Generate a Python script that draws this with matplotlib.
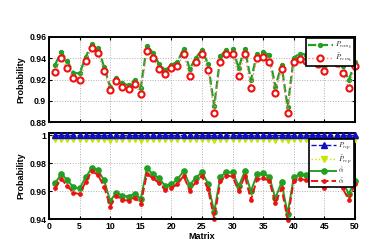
import numpy as np
import matplotlib
matplotlib.use('Agg')
import matplotlib.pyplot as plt
from matplotlib.ticker import FuncFormatter

plt.rcParams['font.family'] = ['Liberation Sans', 'DejaVu Sans']
plt.rcParams['font.weight'] = 'bold'
plt.rcParams['mathtext.fontset'] = 'cm'

# 数据
matrix = np.arange(1, 51)

p_rem = [0.9341, 0.9457, 0.9375, 0.9263, 0.9257, 0.9413, 0.9532, 0.9500, 0.9319, 0.9131,
         0.9213, 0.9163, 0.9147, 0.9194, 0.9122, 0.9519, 0.9450, 0.9344, 0.9288, 0.9340,
         0.9366, 0.9491, 0.9297, 0.9407, 0.9475, 0.9347, 0.8950, 0.9419, 0.9482, 0.9490,
         0.9310, 0.9490, 0.9194, 0.9444, 0.9463, 0.9426, 0.9130, 0.9338, 0.8938, 0.9407,
         0.9444, 0.9435, 0.9425, 0.9375, 0.9313, 0.9403, 0.9390, 0.9325, 0.9194, 0.9366]
p_rem_t = [0.9275, 0.9403, 0.9307, 0.9213, 0.9191, 0.9375, 0.9494, 0.9453, 0.9281, 0.9103,
           0.9188, 0.9128, 0.9113, 0.9156, 0.9066, 0.9466, 0.9407, 0.9300, 0.9250, 0.9310,
           0.9328, 0.9440, 0.9232, 0.9360, 0.9436, 0.9288, 0.8887, 0.9366, 0.9438, 0.9438,
           0.9234, 0.9438, 0.9119, 0.9407, 0.9410, 0.9366, 0.9075, 0.9300, 0.8882, 0.9360,
           0.9392, 0.9372, 0.9370, 0.9350, 0.9276, 0.9372, 0.9356, 0.9260, 0.9120, 0.9326]

p_rep = [1.0] * 50
p_rep_t = [0.9976] * 50
for k in [10, 15, 27, 37, 39, 49]:
    p_rep_t[k - 1] = 0.9962

alpha_hat = [0.9657, 0.9723, 0.9680, 0.9628, 0.9621, 0.9699, 0.9767, 0.9751, 0.9678, 0.9531,
             0.9590, 0.9569, 0.9562, 0.9583, 0.9545, 0.9763, 0.9721, 0.9692, 0.9638, 0.9650,
             0.9685, 0.9744, 0.9645, 0.9697, 0.9735, 0.9655, 0.9453, 0.9704, 0.9737, 0.9735,
             0.9635, 0.9741, 0.9600, 0.9721, 0.9728, 0.9704, 0.9550, 0.9664, 0.9440, 0.9699,
             0.9721, 0.9716, 0.9704, 0.9699, 0.9657, 0.9699, 0.9704, 0.9666, 0.9581, 0.9675]
alpha_t = [0.9621, 0.9689, 0.9635, 0.9590, 0.9579, 0.9668, 0.9744, 0.9716, 0.9633, 0.9491,
           0.9569, 0.9538, 0.9533, 0.9555, 0.9510, 0.9723, 0.9692, 0.9657, 0.9609, 0.9621,
           0.9650, 0.9710, 0.9602, 0.9668, 0.9710, 0.9615, 0.9405, 0.9670, 0.9710, 0.9706,
           0.9600, 0.9710, 0.9538, 0.9685, 0.9692, 0.9675, 0.9515, 0.9621, 0.9397, 0.9675,
           0.9687, 0.9680, 0.9675, 0.9661, 0.9621, 0.9664, 0.9657, 0.9621, 0.9538, 0.9652]

fig = plt.figure(figsize=(3.74, 2.45), dpi=100)
ax1 = fig.add_axes([0.131, 0.502, 0.818, 0.347])
ax2 = fig.add_axes([0.131, 0.105, 0.818, 0.352])

fmt = FuncFormatter(lambda v, p: ('%.2f' % v).rstrip('0').rstrip('.'))

for ax in (ax1, ax2):
    ax.set_xlim(0, 50)
    ax.set_xticks(np.arange(0, 51, 5))
    ax.grid(True, color='#b0b0b0', linestyle=':', linewidth=0.7)
    ax.tick_params(direction='in', labelsize=6.2, length=2.5, width=0.8, top=True, right=True, pad=2)
    for s in ax.spines.values():
        s.set_linewidth(1.4)
    ax.yaxis.set_major_formatter(fmt)
    ax.set_ylabel('Probability', fontsize=6.5, fontweight='bold', labelpad=3)

# 上图
ax1.plot(matrix, p_rem, '--', color='#22a022', lw=1.6, marker='o', ms=2.8,
         mfc='#22a022', mec='#22a022', label=r'$P_{rem_b}$', clip_on=False)
ax1.plot(matrix, p_rem_t, ':', color='#ff8080', lw=1.0, marker='o', ms=4.4,
         mfc='white', mec='#ee1111', mew=1.5, label=r'$\tilde{P}_{rem_b}$', clip_on=False)
ax1.set_ylim(0.88, 0.96)
ax1.set_yticks([0.88, 0.9, 0.92, 0.94, 0.96])
ax1.tick_params(labelbottom=False)
leg1 = ax1.legend(loc='upper right', fontsize=5, handlelength=3.6, borderpad=0.25,
                  labelspacing=0.15, handletextpad=0.3, fancybox=False, framealpha=1,
                  borderaxespad=0.2, numpoints=1)
leg1.get_frame().set_edgecolor('black')
leg1.get_frame().set_linewidth(1.2)

# 下图
ax2.plot(matrix, p_rep, '--', color='#1010c0', lw=1.0, marker='^', ms=3.8,
         mfc='#1010c0', mec='#1010c0', label=r'$P_{rep}$', clip_on=False, zorder=4)
ax2.plot(matrix, p_rep_t, ':', color='#c8e600', lw=1.0, marker='v', ms=4.2,
         mfc='#c8e600', mec='#c8e600', label=r'$\tilde{P}_{rep}$', clip_on=False, zorder=3)
ax2.plot(matrix, alpha_hat, '-', color='#22a022', lw=1.4, marker='o', ms=3.8,
         mfc='#22a022', mec='#22a022', label=r'$\hat{\alpha}$', clip_on=False)
ax2.plot(matrix, alpha_t, '--', color='#ee1111', lw=1.4, marker='o', ms=2.4,
         mfc='#ee1111', mec='#ee1111', label=r'$\tilde{\alpha}$', clip_on=False)
ax2.set_ylim(0.94, 1.0015)
ax2.set_yticks([0.94, 0.96, 0.98, 1.0])
ax2.set_xlabel('Matrix', fontsize=6.5, fontweight='bold', labelpad=1)
leg2 = ax2.legend(loc='upper right', bbox_to_anchor=(1.0, 0.95), fontsize=5,
                  handlelength=3.6, borderpad=0.25, labelspacing=0.15, handletextpad=0.3,
                  fancybox=False, framealpha=1, borderaxespad=0.2, numpoints=1)
leg2.get_frame().set_edgecolor('black')
leg2.get_frame().set_linewidth(1.2)

plt.savefig('out.png', dpi=100)
